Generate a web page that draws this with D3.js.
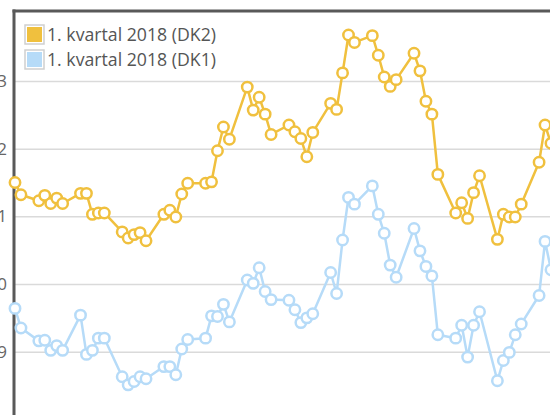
<!DOCTYPE html>
<html>
<head>
<meta charset="utf-8">
<script src="https://cdn.jsdelivr.net/npm/d3@7"></script>
<style>
  body { margin: 0; background: #fff; }
  svg { display: block; font-family: "Open Sans", sans-serif; }
</style>
</head>
<body>
<script>
// trading days (weekends skipped)
const dates = [
  "2017-09-14","2017-09-15",
  "2017-09-18","2017-09-19","2017-09-20","2017-09-21","2017-09-22",
  "2017-09-25","2017-09-26","2017-09-27","2017-09-28","2017-09-29",
  "2017-10-02","2017-10-03","2017-10-04","2017-10-05","2017-10-06",
  "2017-10-09","2017-10-10","2017-10-11","2017-10-12","2017-10-13",
  "2017-10-16","2017-10-17","2017-10-18","2017-10-19","2017-10-20",
  "2017-10-23","2017-10-24","2017-10-25","2017-10-26","2017-10-27",
  "2017-10-30","2017-10-31","2017-11-01","2017-11-02","2017-11-03",
  "2017-11-06","2017-11-07","2017-11-08","2017-11-09","2017-11-10",
  "2017-11-13","2017-11-14","2017-11-15","2017-11-16","2017-11-17",
  "2017-11-20","2017-11-21","2017-11-22","2017-11-23","2017-11-24",
  "2017-11-27","2017-11-28","2017-11-29","2017-11-30","2017-12-01",
  "2017-12-04","2017-12-05","2017-12-06","2017-12-07","2017-12-08",
  "2017-12-11","2017-12-12","2017-12-13"
];

const dk2 = [
  41.50, 41.32,
  41.23, 41.31, 41.19, 41.27, 41.19,
  41.34, 41.34, 41.03, 41.05, 41.05,
  40.77, 40.68, 40.73, 40.76, 40.64,
  41.03, 41.09, 40.99, 41.33, 41.49,
  41.49, 41.51, 41.97, 42.32, 42.14,
  42.91, 42.57, 42.76, 42.51, 42.21,
  42.35, 42.25, 42.15, 41.88, 42.24,
  42.67, 42.58, 43.12, 43.68, 43.57,
  43.67, 43.38, 43.06, 42.92, 43.02,
  43.41, 43.15, 42.70, 42.51, 41.62,
  41.05, 41.20, 40.97, 41.35, 41.60,
  40.66, 41.03, 40.99, 40.99, 41.18,
  41.80, 42.35, 42.08
];

const dk1 = [
  39.64, 39.35,
  39.16, 39.17, 39.02, 39.09, 39.02,
  39.54, 38.96, 39.02, 39.20, 39.20,
  38.63, 38.51, 38.56, 38.63, 38.60,
  38.78, 38.78, 38.66, 39.04, 39.18,
  39.20, 39.53, 39.52, 39.70, 39.44,
  40.06, 40.01, 40.24, 39.89, 39.77,
  39.76, 39.62, 39.43, 39.50, 39.56,
  40.17, 39.86, 40.65, 41.28, 41.18,
  41.45, 41.03, 40.75, 40.28, 40.10,
  40.82, 40.49, 40.26, 40.12, 39.25,
  39.20, 39.39, 38.92, 39.39, 39.59,
  38.57, 38.87, 38.99, 39.25, 39.41,
  39.83, 40.63, 40.21
];

const yTicks = [39, 40, 41, 42, 43];
const seriesNames = ["1. kvartal 2018 (DK2)", "1. kvartal 2018 (DK1)"];
const seriesColors = ["#f0c03e", "#b6dbf8"];

makeChart();

function makeChart() {
    const width = 550;
    const height = 415;
    const left = 14, top = 11; // plot frame, the rest runs off the page

    const parse = d3.utcParse("%Y-%m-%d");
    const days = dates.map(parse);

    const x = d3.scaleUtc()
        .domain([parse("2017-09-14"), parse("2017-12-13")])
        .range([15, 551]);

    const y = d3.scaleLinear()
        .domain([39, 43])
        .range([351.7, 81]);

    const svg = d3.select("body").append("svg")
        .attr("width", width)
        .attr("height", height);

    // gridlines + tick labels (cut at the page edge like the original)
    const yAxis = svg.append("g")
        .attr("transform", `translate(${left},0)`)
        .call(d3.axisLeft(y).tickValues(yTicks).tickFormat(d3.format("d"))
            .tickSize(-(width - left)).tickPadding(7));
    yAxis.select(".domain").remove();
    yAxis.selectAll(".tick line").attr("stroke", "#dadada").attr("stroke-width", 1.5);
    yAxis.selectAll(".tick text")
        .attr("fill", "#666")
        .attr("font-size", 17)
        .attr("font-family", "Open Sans, sans-serif");

    // frame: left axis + top border
    svg.append("line")
        .attr("x1", left).attr("x2", left)
        .attr("y1", top - 1.5).attr("y2", height)
        .attr("stroke", "#595959").attr("stroke-width", 3);
    svg.append("line")
        .attr("x1", left - 1.5).attr("x2", width)
        .attr("y1", top).attr("y2", top)
        .attr("stroke", "#595959").attr("stroke-width", 3);

    const series = [dk1, dk2];
    const cols = [seriesColors[1], seriesColors[0]];

    series.forEach((vals, i) => {
        const pts = vals.map((v, j) => ({ d: days[j], v: v }));
        const line = d3.line().x(p => x(p.d)).y(p => y(p.v));
        svg.append("path")
            .attr("d", line(pts))
            .attr("fill", "none")
            .attr("stroke", cols[i])
            .attr("stroke-width", 2.5)
            .attr("stroke-linejoin", "round");
        svg.append("g").selectAll("circle")
            .data(pts)
            .join("circle")
            .attr("cx", p => x(p.d))
            .attr("cy", p => y(p.v))
            .attr("r", 5.2)
            .attr("fill", "#fff")
            .attr("stroke", cols[i])
            .attr("stroke-width", 2.5);
    });

    // legend
    const legend = svg.append("g");
    seriesNames.forEach((name, i) => {
        const g = legend.append("g").attr("transform", `translate(25,${25 + i * 25})`);
        g.append("rect")
            .attr("x", 0).attr("y", 0).attr("width", 19).attr("height", 19)
            .attr("fill", "#fff").attr("stroke", "#cfcfcf").attr("stroke-width", 1.5);
        g.append("rect")
            .attr("x", 2).attr("y", 2).attr("width", 15).attr("height", 15)
            .attr("fill", seriesColors[i]);
        g.append("text")
            .attr("x", 22).attr("y", 16)
            .attr("fill", "#555")
            .attr("font-size", 17.7)
            .text(name);
    });

    return svg.node();
}
</script>
</body>
</html>
